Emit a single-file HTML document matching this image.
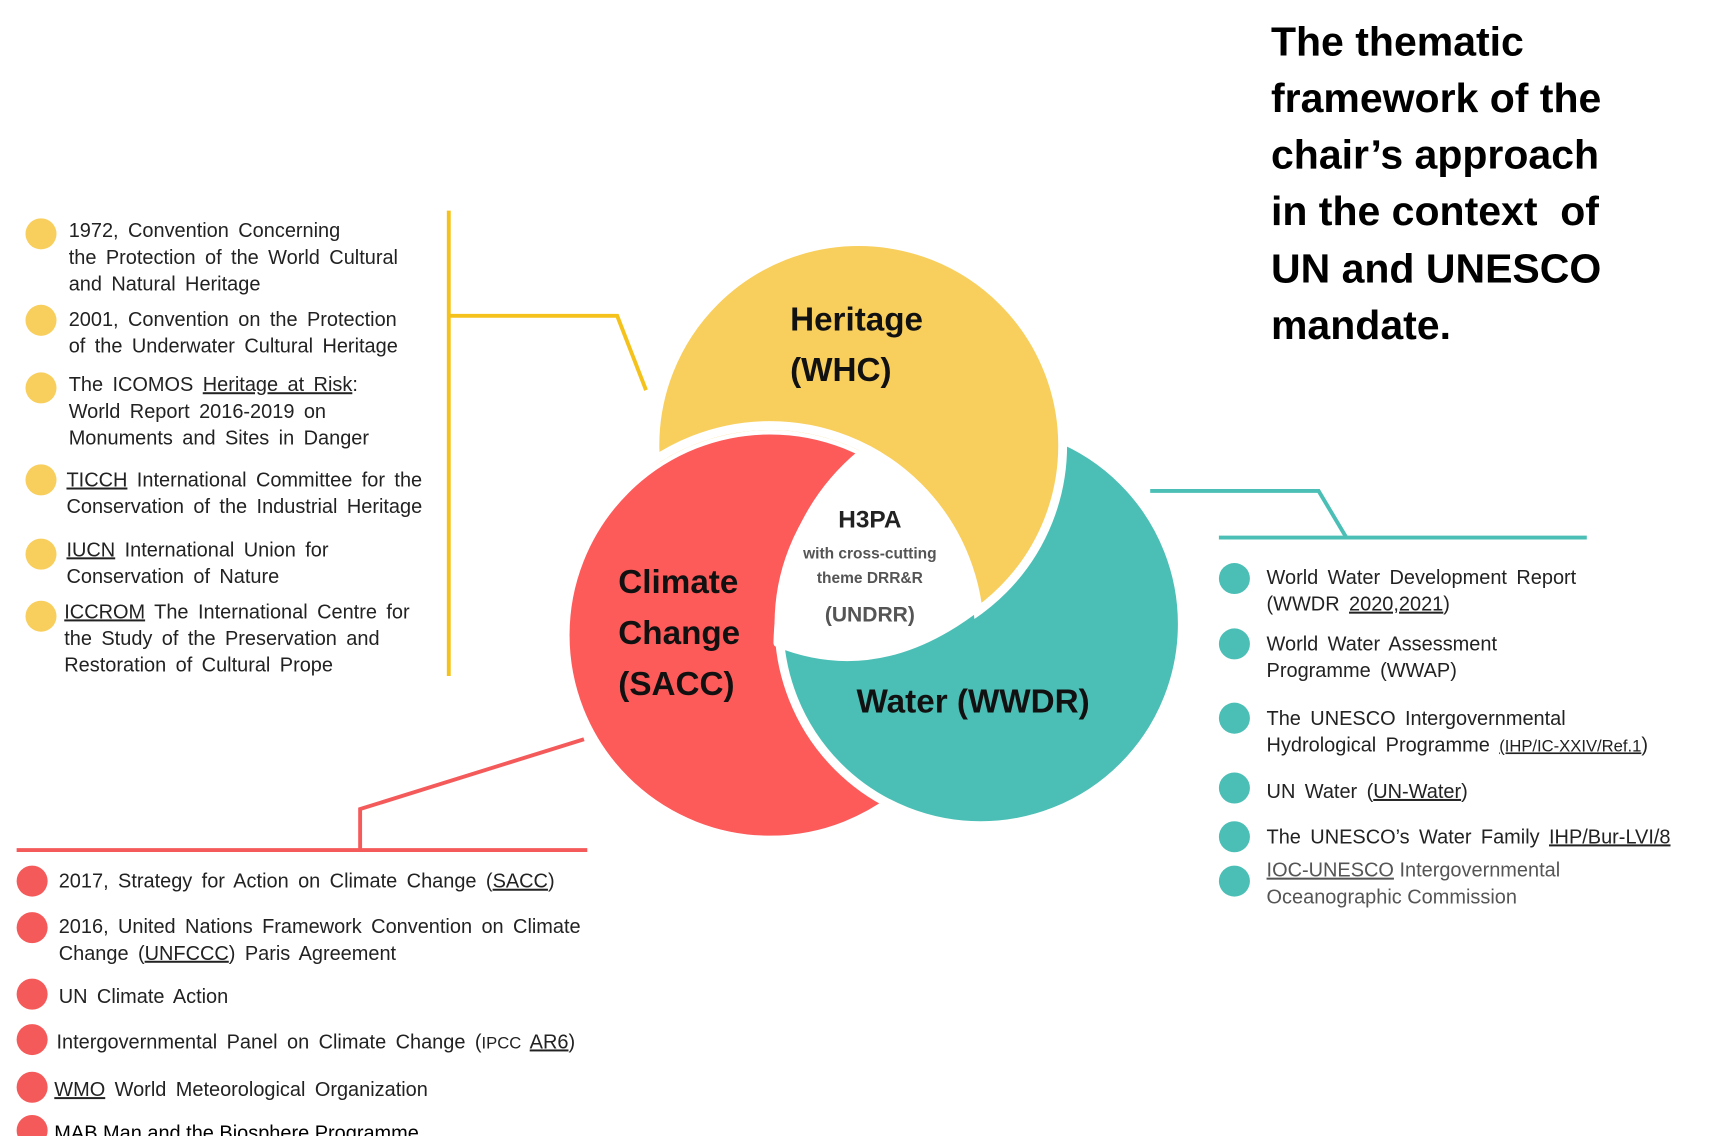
<!DOCTYPE html>
<html><head><meta charset="utf-8"><style>
html,body{margin:0;padding:0;background:#fff;}
svg{display:block;}
text{font-family:"Liberation Sans",sans-serif;}
.l{font-size:18px;fill:#222;word-spacing:3.5px;}
.u{text-decoration:underline;}
</style></head><body>
<svg width="1712" height="1136" viewBox="0 0 1545 1025" preserveAspectRatio="none" xmlns="http://www.w3.org/2000/svg">
<defs>
<clipPath id="c1"><path clip-rule="evenodd" d="M0 0 H1545 V1025 H0 Z M510 573 A185 185 0 1 0 880 573 A185 185 0 1 0 510 573 Z"/></clipPath>
<clipPath id="c2"><circle cx="775" cy="402" r="188"/></clipPath>
</defs>
<rect width="1545" height="1025" fill="#fff"/>
<!-- connectors -->
<g fill="none" stroke-width="3.5">
<path d="M405 190 V610 M405 285 H557 L583 352" stroke="#f5c21b"/>
<path d="M1038 443 H1190 L1215 485 M1100 485 H1432" stroke="#4bbfb5"/>
<path d="M527 667 L325 730 V767 M15 767 H530" stroke="#f55a5a"/>
</g>
<!-- circles -->
<circle cx="695" cy="573" r="185" fill="#fd5a5a" stroke="#fff" stroke-width="8"/>
<circle cx="885" cy="563" r="182" fill="#4bbfb5" stroke="#fff" stroke-width="8"/>
<circle cx="775" cy="402" r="184" fill="#f8ce5c" stroke="#fff" stroke-width="8" clip-path="url(#c1)"/>
<circle cx="695" cy="573" r="189" fill="none" stroke="#fff" stroke-width="8" clip-path="url(#c2)"/>
<path d="M777 410 Q705 470 702 580 Q790 615 876 552 Q873 462 777 410 Z" fill="#fff" stroke="#fff" stroke-width="8" stroke-linejoin="round"/>
<!-- circle labels -->
<g font-weight="bold" fill="#111" font-size="30">
<text x="713" y="298">Heritage</text>
<text x="713" y="344">(WHC)</text>
<text x="558" y="535">Climate</text>
<text x="558" y="581">Change</text>
<text x="558" y="627">(SACC)</text>
<text x="773" y="643">Water (WWDR)</text>
</g>
<text x="785" y="476" text-anchor="middle" font-size="22" font-weight="bold" fill="#222">H3PA</text>
<text x="785" y="504" text-anchor="middle" font-size="14" font-weight="bold" fill="#555">with cross-cutting</text>
<text x="785" y="526" text-anchor="middle" font-size="14" font-weight="bold" fill="#555">theme DRR&amp;R</text>
<text x="785" y="561" text-anchor="middle" font-size="19" font-weight="bold" fill="#555">(UNDRR)</text>
<!-- title -->
<g font-size="37" font-weight="bold" fill="#000">
<text x="1147" y="50">The thematic</text>
<text x="1147" y="101">framework of the</text>
<text x="1147" y="152">chair’s approach</text>
<text x="1147" y="203">in the context&#160; of</text>
<text x="1147" y="255">UN and UNESCO</text>
<text x="1147" y="306">mandate.</text>
</g>
<!-- yellow list -->
<g fill="#f8ce5c"><circle cx="37" cy="211" r="14"/><circle cx="37" cy="289" r="14"/><circle cx="37" cy="350" r="14"/><circle cx="37" cy="433" r="14"/><circle cx="37" cy="500" r="14"/><circle cx="37" cy="556" r="14"/></g>
<g class="l">
<text x="62" y="214">1972, Convention Concerning</text>
<text x="62" y="238">the Protection of the World Cultural</text>
<text x="62" y="262">and Natural Heritage</text>
<text x="62" y="294">2001, Convention on the Protection</text>
<text x="62" y="318">of the Underwater Cultural Heritage</text>
<text x="62" y="353">The ICOMOS <tspan class="u">Heritage at Risk</tspan>:</text>
<text x="62" y="377">World Report 2016-2019 on</text>
<text x="62" y="401">Monuments and Sites in Danger</text>
<text x="60" y="439"><tspan class="u">TICCH</tspan> International Committee for the</text>
<text x="60" y="463">Conservation of the Industrial Heritage</text>
<text x="60" y="502"><tspan class="u">IUCN</tspan> International Union for</text>
<text x="60" y="526">Conservation of Nature</text>
<text x="58" y="558"><tspan class="u">ICCROM</tspan> The International Centre for</text>
<text x="58" y="582">the Study of the Preservation and</text>
<text x="58" y="606">Restoration of Cultural Prope</text>
</g>
<!-- teal list -->
<g fill="#4bbfb5"><circle cx="1114" cy="522" r="14"/><circle cx="1114" cy="581" r="14"/><circle cx="1114" cy="648" r="14"/><circle cx="1114" cy="711" r="14"/><circle cx="1114" cy="755" r="14"/><circle cx="1114" cy="795" r="14"/></g>
<g class="l">
<text x="1143" y="527">World Water Development Report</text>
<text x="1143" y="551">(WWDR <tspan class="u">2020,2021</tspan>)</text>
<text x="1143" y="587">World Water Assessment</text>
<text x="1143" y="611">Programme (WWAP)</text>
<text x="1143" y="654">The UNESCO Intergovernmental</text>
<text x="1143" y="678">Hydrological Programme <tspan font-size="15" class="u">(IHP/IC-XXIV/Ref.1</tspan>)</text>
<text x="1143" y="720">UN Water (<tspan class="u">UN-Water</tspan>)</text>
<text x="1143" y="761">The UNESCO’s Water Family <tspan class="u">IHP/Bur-LVI/8</tspan></text>
<text x="1143" y="791" fill="#555" word-spacing="0"><tspan class="u">IOC-UNESCO</tspan> Intergovernmental</text>
<text x="1143" y="815" fill="#555" word-spacing="0">Oceanographic Commission</text>
</g>
<!-- red list -->
<g fill="#f55a5a"><circle cx="29" cy="795" r="14"/><circle cx="29" cy="837" r="14"/><circle cx="29" cy="897" r="14"/><circle cx="29" cy="938" r="14"/><circle cx="29" cy="981" r="14"/><circle cx="29" cy="1020" r="14"/></g>
<g class="l">
<text x="53" y="801">2017, Strategy for Action on Climate Change (<tspan class="u">SACC</tspan>)</text>
<text x="53" y="842">2016, United Nations Framework Convention on Climate</text>
<text x="53" y="866">Change (<tspan class="u">UNFCCC</tspan>) Paris Agreement</text>
<text x="53" y="905">UN Climate Action</text>
<text x="51" y="946">Intergovernmental Panel on Climate Change (<tspan font-size="15">IPCC </tspan><tspan class="u">AR6</tspan>)</text>
<text x="49" y="989"><tspan class="u">WMO</tspan> World Meteorological Organization</text>
<text x="49" y="1028" fill="#000" word-spacing="0"><tspan class="u">MAB</tspan> Man and the Biosphere Programme</text>
</g>
</svg>
</body></html>
